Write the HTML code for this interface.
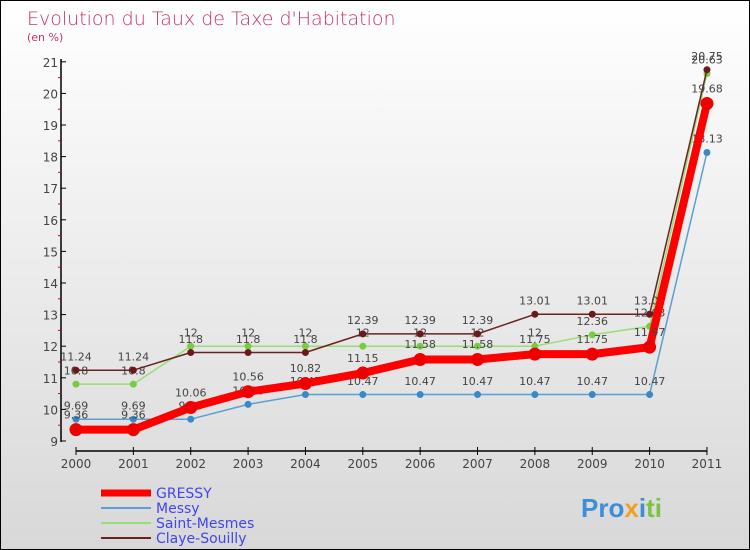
<!DOCTYPE html>
<html><head><meta charset="utf-8"><style>
body{margin:0}
#c{position:relative;width:748px;height:548px;border:1px solid #000;background:linear-gradient(#fff,#d8d8d8);font-family:"DejaVu Sans","Liberation Sans",sans-serif;overflow:hidden}
</style></head><body>
<div id="c">
<svg width="748" height="548" id="s">
<text x="26" y="24" font-size="19" fill="#c8336a" font-weight="300">Evolution du Taux de Taxe d'Habitation</text>
<text x="26" y="40" font-size="11" fill="#c8336a">(en %)</text>
<g id="axes"></g><g id="series"></g><g id="legend"></g>
<text x="580" y="516" font-size="26" font-weight="bold" font-family="Liberation Sans,sans-serif"><tspan fill="#3a8fd8">Pro</tspan><tspan fill="#f0a020">x</tspan><tspan fill="#3a8fd8">i</tspan><tspan fill="#7cc440">ti</tspan></text>
</svg></div>
<script>
const years=["2000","2001","2002","2003","2004","2005","2006","2007","2008","2009","2010","2011"];
const gressy=[9.36,9.36,10.06,10.56,10.82,11.15,11.58,11.58,11.75,11.75,11.97,19.68];
const messy=[9.69,9.69,9.69,10.16,10.47,10.47,10.47,10.47,10.47,10.47,10.47,18.13];
const saintMesmes=[10.8,10.8,12,12,12,12,12,12,12,12.36,12.63,20.63];
const claye=[11.24,11.24,11.8,11.8,11.8,12.39,12.39,12.39,13.01,13.01,13.01,20.75];
const yTicks=[9,10,11,12,13,14,15,16,17,18,19,20,21];
const NS="http://www.w3.org/2000/svg";
const X=i=>75+i*57.36, Y=v=>440-(v-9)*31.6;
function mk(t,a,p){const e=document.createElementNS(NS,t);for(const k in a)e.setAttribute(k,a[k]);(p||document.getElementById('series')).appendChild(e);return e;}
const ax=document.getElementById('axes');
let e=mk('line',{x1:60,y1:58,x2:60,y2:441,stroke:'#000','stroke-width':1.5},ax);

e=mk('line',{x1:75,y1:450,x2:706,y2:450,stroke:'#000','stroke-width':1.5},ax);

yTicks.forEach(v=>{
 e=mk('line',{x1:60,y1:Y(v),x2:65,y2:Y(v),stroke:'#000'},ax);
 
 if(v<21){e=mk('line',{x1:57,y1:Y(v+0.5),x2:60,y2:Y(v+0.5),stroke:'#d00'},ax);
 }
 e=mk('text',{x:57,y:Y(v)+5,'font-size':12,fill:'#444','text-anchor':'end'},ax);e.textContent=v;
 
});
years.forEach((y,i)=>{
 e=mk('line',{x1:X(i),y1:446,x2:X(i),y2:454,stroke:'#000'},ax);
 
 e=mk('text',{x:X(i),y:467,'font-size':12,fill:'#444','text-anchor':'middle'},ax);e.textContent=y;
 
});
function series(d,col,dot,w,r,name){
 const g=mk('g',{});
 e=mk('polyline',{points:d.map((v,i)=>X(i)+','+Y(v)).join(' '),fill:'none',stroke:col,'stroke-width':w,'stroke-linejoin':'round'},g);
 
 d.forEach((v,i)=>{
  e=mk('circle',{cx:X(i),cy:Y(v),r:r,fill:dot},g);
  
  e=mk('text',{x:X(i),y:Y(v)-8-r/2,'font-size':11,fill:'#444','text-anchor':'middle'},g);e.textContent=v;
  
 });
}
series(messy,'#5aa0d0','#3a88c8',1.5,3.5,'messy');
series(saintMesmes,'#99dd77','#77cc44',1.5,3.5,'saint-mesmes');
series(claye,'#6b2222','#6b1a1a',1.5,3.5,'claye-souilly');
series(gressy,'#ff0000','#ee0000',8,6.5,'gressy');
const lg=document.getElementById('legend');
[["GRESSY",'#ff0000',7],["Messy",'#5aa0d0',2],["Saint-Mesmes",'#99dd77',2],["Claye-Souilly",'#6b2222',2]].forEach((l,i)=>{
 const y=492+i*15;
 e=mk('line',{x1:100,y1:y,x2:150,y2:y,stroke:l[1],'stroke-width':l[2]},lg);
 
 e=mk('text',{x:155,y:y+5,'font-size':14,fill:'#4444ee'},lg);e.textContent=l[0];
 
});
</script></body></html>
